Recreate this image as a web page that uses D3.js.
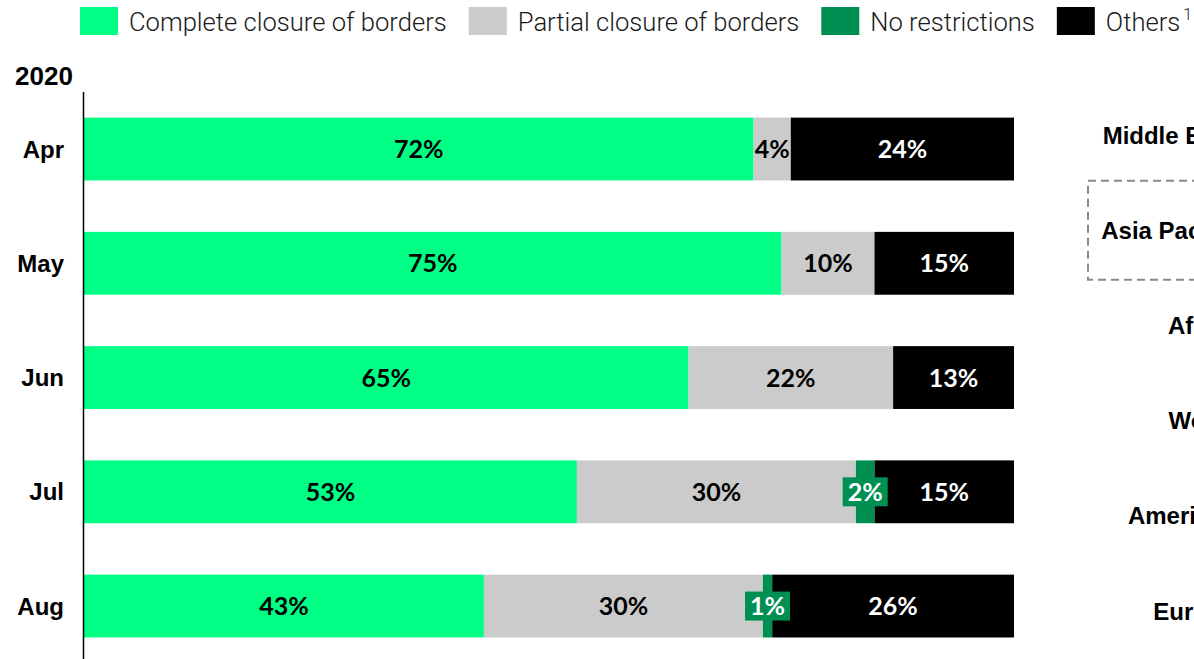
<!DOCTYPE html>
<html><head><meta charset="utf-8">
<script src="https://cdn.jsdelivr.net/npm/d3@7"></script>
<style>
html,body{margin:0;padding:0;background:#fff;overflow:hidden}
svg{display:block}
</style></head><body>
<svg id="chart" width="1194" height="659"></svg>
<script>
// Share of destinations by type of travel restriction, 2020
const months = ["Apr", "May", "Jun", "Jul", "Aug"];
const complete = [72, 75, 65, 53, 43];
const partial = [4, 10, 22, 30, 30];
const noRestrictions = [0, 0, 0, 2, 1];
const others = [24, 15, 13, 15, 26];

const seriesKeys = ["complete", "partial", "none", "others"];
const seriesNames = ["Complete closure of borders", "Partial closure of borders", "No restrictions", "Others"];
const seriesColors = ["#00ff85", "#cbcbcb", "#008f52", "#000000"];
const labelColors = ["#000000", "#000000", "#ffffff", "#ffffff"];
const yearLabel = "2020";

// Regional panel row labels
const regions = ["Middle East", "Asia Pacific", "Africa", "World", "Americas", "Europe"];
const highlightedRegion = "Asia Pacific";

const rows = months.map((m, i) => ({
  month: m,
  complete: complete[i],
  partial: partial[i],
  none: noRestrictions[i],
  others: others[i]
}));

const svg = d3.select("#chart");
const boldFont = "'Liberation Sans', Arial, sans-serif";
const labelFont = "Lato, 'Open Sans', sans-serif";
const legendFont = "Roboto, 'Open Sans', sans-serif";

const x = d3.scaleLinear().domain([0, 100]).range([84, 1014]);
const y = d3.scaleBand().domain(months).range([66.2, 688.9]).padding(0.45);
const color = d3.scaleOrdinal().domain(seriesKeys).range(seriesColors);
const textColor = d3.scaleOrdinal().domain(seriesKeys).range(labelColors);

const stacked = d3.stack().keys(seriesKeys)(rows);

// Legend
const legend = svg.append("g").attr("class", "legend");
let lx = 80;
seriesKeys.forEach((k, i) => {
  const g = legend.append("g").attr("transform", `translate(${lx},0)`);
  g.append("rect").attr("x", 0).attr("y", 7).attr("width", 38).attr("height", 28)
    .attr("fill", color(k));
  const t = g.append("text").attr("x", 49).attr("y", 31)
    .attr("font-family", legendFont).attr("font-weight", 300)
    .attr("font-size", 25.6).attr("fill", "#1a1a1a").text(seriesNames[i]);
  let w = t.node().getComputedTextLength();
  if (k === "others") {
    g.append("text").attr("x", 49 + w + 3).attr("y", 20)
      .attr("font-family", legendFont).attr("font-weight", 300)
      .attr("font-size", 16).attr("fill", "#1a1a1a").text("1");
  }
  lx += 49 + w + 22;
});

// Year label
svg.append("text").attr("x", 15).attr("y", 85)
  .attr("font-family", boldFont).attr("font-weight", 700).attr("font-size", 26)
  .attr("fill", "#000").text(yearLabel);

// Stacked bars
const layers = svg.append("g").selectAll("g").data(stacked).join("g")
  .attr("fill", d => color(d.key));
layers.selectAll("rect").data(d => d).join("rect")
  .attr("x", d => x(d[0]))
  .attr("y", d => y(d.data.month))
  .attr("width", d => x(d[1]) - x(d[0]))
  .attr("height", y.bandwidth());

// Axis line
svg.append("line").attr("x1", 83.5).attr("x2", 83.5).attr("y1", 92).attr("y2", 659)
  .attr("stroke", "#000").attr("stroke-width", 1.5);

// Month labels
svg.append("g").selectAll("text").data(months).join("text")
  .attr("x", 64).attr("y", d => y(d) + y.bandwidth() / 2)
  .attr("dy", "0.36em").attr("text-anchor", "end")
  .attr("font-family", boldFont).attr("font-weight", 700).attr("font-size", 24)
  .attr("fill", "#000").text(d => d);

// Value labels
const labelG = svg.append("g");
stacked.forEach(layer => {
  layer.forEach(d => {
    const v = d[1] - d[0];
    if (v <= 0) return;
    const cx = (x(d[0]) + x(d[1])) / 2;
    const cy = y(d.data.month) + y.bandwidth() / 2;
    if (layer.key === "none") {
      labelG.append("rect").attr("x", cx - 22.5).attr("y", cy - 14.5)
        .attr("width", 45).attr("height", 29).attr("fill", color("none"));
    }
    labelG.append("text").attr("x", cx).attr("y", cy).attr("dy", "0.36em")
      .attr("text-anchor", "middle")
      .attr("font-family", labelFont).attr("font-weight", 700).attr("font-size", 25)
      .attr("fill", textColor(layer.key)).text(v + "%");
  });
});

// Regional panel labels (panel continues past the right edge)
const ry = d3.scalePoint().domain(regions).range([135, 611]);
svg.append("rect").attr("x", 1088).attr("y", ry(highlightedRegion) - 49.5)
  .attr("width", 200).attr("height", 99)
  .attr("fill", "none").attr("stroke", "#8a8a8a").attr("stroke-width", 2)
  .attr("stroke-dasharray", "8,5");
svg.append("g").selectAll("text").data(regions).join("text")
  .attr("x", 1236).attr("y", d => ry(d)).attr("dy", "0.36em")
  .attr("text-anchor", "end")
  .attr("font-family", boldFont).attr("font-weight", 700).attr("font-size", 24)
  .attr("fill", "#000").text(d => d);
</script>
</body></html>
